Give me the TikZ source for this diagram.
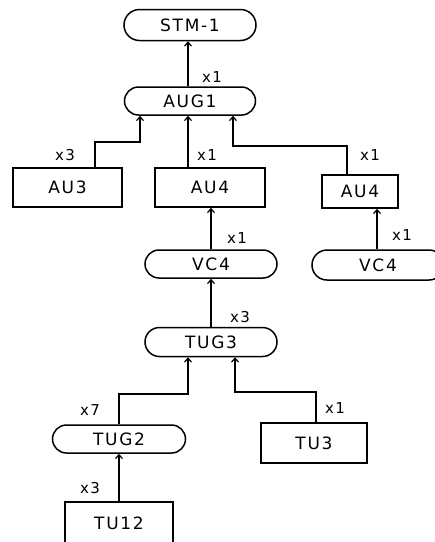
\documentclass[tikz,border=0pt]{standalone}
\usepackage{fontspec}
\setmainfont[LetterSpace=10]{DejaVu Sans}
\usetikzlibrary{shapes.misc,arrows.meta,positioning}

\begin{document}
\begin{tikzpicture}[x=1pt,y=-1pt,
  pill/.style={draw, rounded rectangle, line width=1.5pt, minimum width=132pt, minimum height=28pt, inner sep=0pt, font=\fontsize{17}{17}\selectfont},
  unit/.style={draw, rectangle, line width=1.5pt, minimum width=108pt, minimum height=39pt, inner sep=0pt, font=\fontsize{17}{17}\selectfont},
  conn/.style={line width=1.8pt, -{Straight Barb[length=4pt,width=7pt,line width=1.2pt]}},
  mult/.style={font=\fontsize{15}{15}\selectfont}]
\useasboundingbox (0,0) rectangle (435,542);

% top of the multiplexing tree
\node[pill, minimum height=31pt] (stm) at (190,25) {STM-1};
\node[pill, minimum width=131pt] (aug) at (190,101) {AUG1};

% administrative units
\node[unit, minimum width=109pt] (au3) at (67.5,187.5) {AU3};
\node[unit, minimum width=110pt] (au4a) at (210,187.5) {AU4};
\node[unit, minimum width=76pt, minimum height=33pt] (au4b) at (360,191.5) {AU4};

% virtual containers
\node[pill] (vc4a) at (211,264) {VC4};
\node[pill, minimum height=30pt] (vc4b) at (378,265) {VC4};

% tributary groups and units
\node[pill, minimum height=29pt] (tug3) at (211,342) {TUG3};
\node[pill, minimum width=133pt] (tug2) at (119,439) {TUG2};
\node[unit, minimum width=106pt, minimum height=40pt] (tu3) at (314,443) {TU3};
\node[unit, minimum height=42pt] (tu12) at (119,523) {TU12};

% connectors
\draw[conn] ([xshift=-2pt]aug.north) -- ([xshift=-2pt]stm.south);
\draw[conn] ([xshift=27.5pt]au3.north) -- ++(0,-25) -| ([xshift=-50pt]aug.south);
\draw[conn] ([xshift=-22pt]au4a.north) -- ([xshift=-2pt]aug.south);
\draw[conn] ([xshift=-13pt]au4b.north) -- ++(0,-28) -| ([xshift=43pt]aug.south);
\draw[conn] (vc4a.north) -- ([xshift=1pt]au4a.south);
\draw[conn] ([xshift=-1pt]vc4b.north) -- ([xshift=17pt]au4b.south);
\draw[conn] (tug3.north) -- (vc4a.south);
\draw[conn] (tug2.north) -- ++(0,-30) -| ([xshift=-23pt]tug3.south);
\draw[conn] ([xshift=2pt]tu3.north) -- ++(0,-30) -| ([xshift=24pt]tug3.south);
\draw[conn] (tu12.north) -- (tug2.south);

% multiplicities
\node[mult] (m1) at (212,77) {x1};
\node[mult] (m2) at (65,155) {x3};
\node[mult] (m3) at (207,155) {x1};
\node[mult] (m4) at (370,155) {x1};
\node[mult] (m5) at (237,238) {x1};
\node[mult] (m6) at (402,235) {x1};
\node[mult] (m7) at (240,317) {x3};
\node[mult] (m8) at (90,410) {x7};
\node[mult] (m9) at (335,408) {x1};
\node[mult] (m10) at (90,488) {x3};

\end{tikzpicture}
\end{document}
